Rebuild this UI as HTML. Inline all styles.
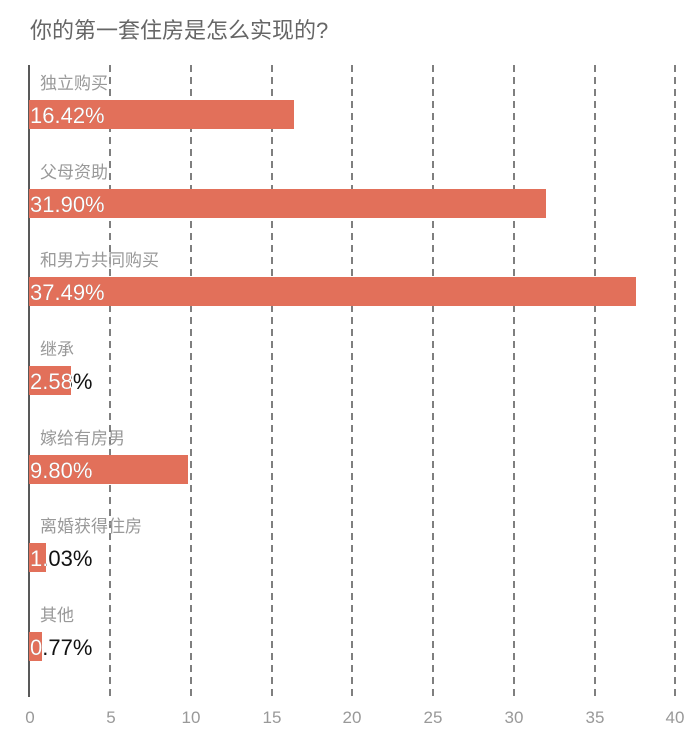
<!DOCTYPE html>
<html><head><meta charset="utf-8"><style>
body{margin:0;background:#fff;}
svg{display:block;font-family:"Liberation Sans","Noto Sans CJK SC",sans-serif;}
</style></head><body>
<svg width="700" height="735" viewBox="0 0 700 735" xmlns="http://www.w3.org/2000/svg">
<defs>
<clipPath id="c0"><rect x="29" y="100" width="265" height="29"/></clipPath>
<clipPath id="c1"><rect x="29" y="189" width="517" height="29"/></clipPath>
<clipPath id="c2"><rect x="29" y="277" width="607" height="29"/></clipPath>
<clipPath id="c3"><rect x="29" y="366" width="42" height="29"/></clipPath>
<clipPath id="c4"><rect x="29" y="455" width="159" height="29"/></clipPath>
<clipPath id="c5"><rect x="29" y="543" width="17" height="29"/></clipPath>
<clipPath id="c6"><rect x="29" y="632" width="13" height="29"/></clipPath>
</defs>
<text x="30" y="38" font-size="22" fill="#666">你的第一套住房是怎么实现的?</text>
<g stroke="#555" stroke-width="1.5" stroke-dasharray="7,5">
<line x1="110" y1="65" x2="110" y2="697"/><line x1="191" y1="65" x2="191" y2="697"/>
<line x1="272" y1="65" x2="272" y2="697"/><line x1="352" y1="65" x2="352" y2="697"/>
<line x1="433" y1="65" x2="433" y2="697"/><line x1="514" y1="65" x2="514" y2="697"/>
<line x1="595" y1="65" x2="595" y2="697"/><line x1="675" y1="65" x2="675" y2="697"/>
</g>
<line x1="29" y1="65" x2="29" y2="697" stroke="#222" stroke-width="1.5"/>
<g fill="#E2705A">
<rect x="29" y="100" width="265" height="29"/>
<rect x="29" y="189" width="517" height="29"/>
<rect x="29" y="277" width="607" height="29"/>
<rect x="29" y="366" width="42" height="29"/>
<rect x="29" y="455" width="159" height="29"/>
<rect x="29" y="543" width="17" height="29"/>
<rect x="29" y="632" width="13" height="29"/>
</g>
<g font-size="17" fill="#999">
<text x="40" y="89">独立购买</text>
<text x="40" y="178">父母资助</text>
<text x="40" y="266">和男方共同购买</text>
<text x="40" y="355">继承</text>
<text x="40" y="444">嫁给有房男</text>
<text x="40" y="532">离婚获得住房</text>
<text x="40" y="621">其他</text>
</g>
<g font-size="22" fill="#111">
<text x="30" y="123">16.42%</text>
<text x="30" y="212">31.90%</text>
<text x="30" y="300">37.49%</text>
<text x="30" y="389">2.58%</text>
<text x="30" y="478">9.80%</text>
<text x="30" y="566">1.03%</text>
<text x="30" y="655">0.77%</text>
</g>
<g font-size="22" fill="#fff">
<text x="30" y="123" clip-path="url(#c0)">16.42%</text>
<text x="30" y="212" clip-path="url(#c1)">31.90%</text>
<text x="30" y="300" clip-path="url(#c2)">37.49%</text>
<text x="30" y="389" clip-path="url(#c3)">2.58%</text>
<text x="30" y="478" clip-path="url(#c4)">9.80%</text>
<text x="30" y="566" clip-path="url(#c5)">1.03%</text>
<text x="30" y="655" clip-path="url(#c6)">0.77%</text>
</g>
<g font-size="17" fill="#999" text-anchor="middle">
<text x="30" y="723">0</text><text x="111" y="723">5</text><text x="191" y="723">10</text>
<text x="272" y="723">15</text><text x="352" y="723">20</text><text x="433" y="723">25</text>
<text x="514" y="723">30</text><text x="595" y="723">35</text><text x="675" y="723">40</text>
</g>
</svg>
</body></html>
